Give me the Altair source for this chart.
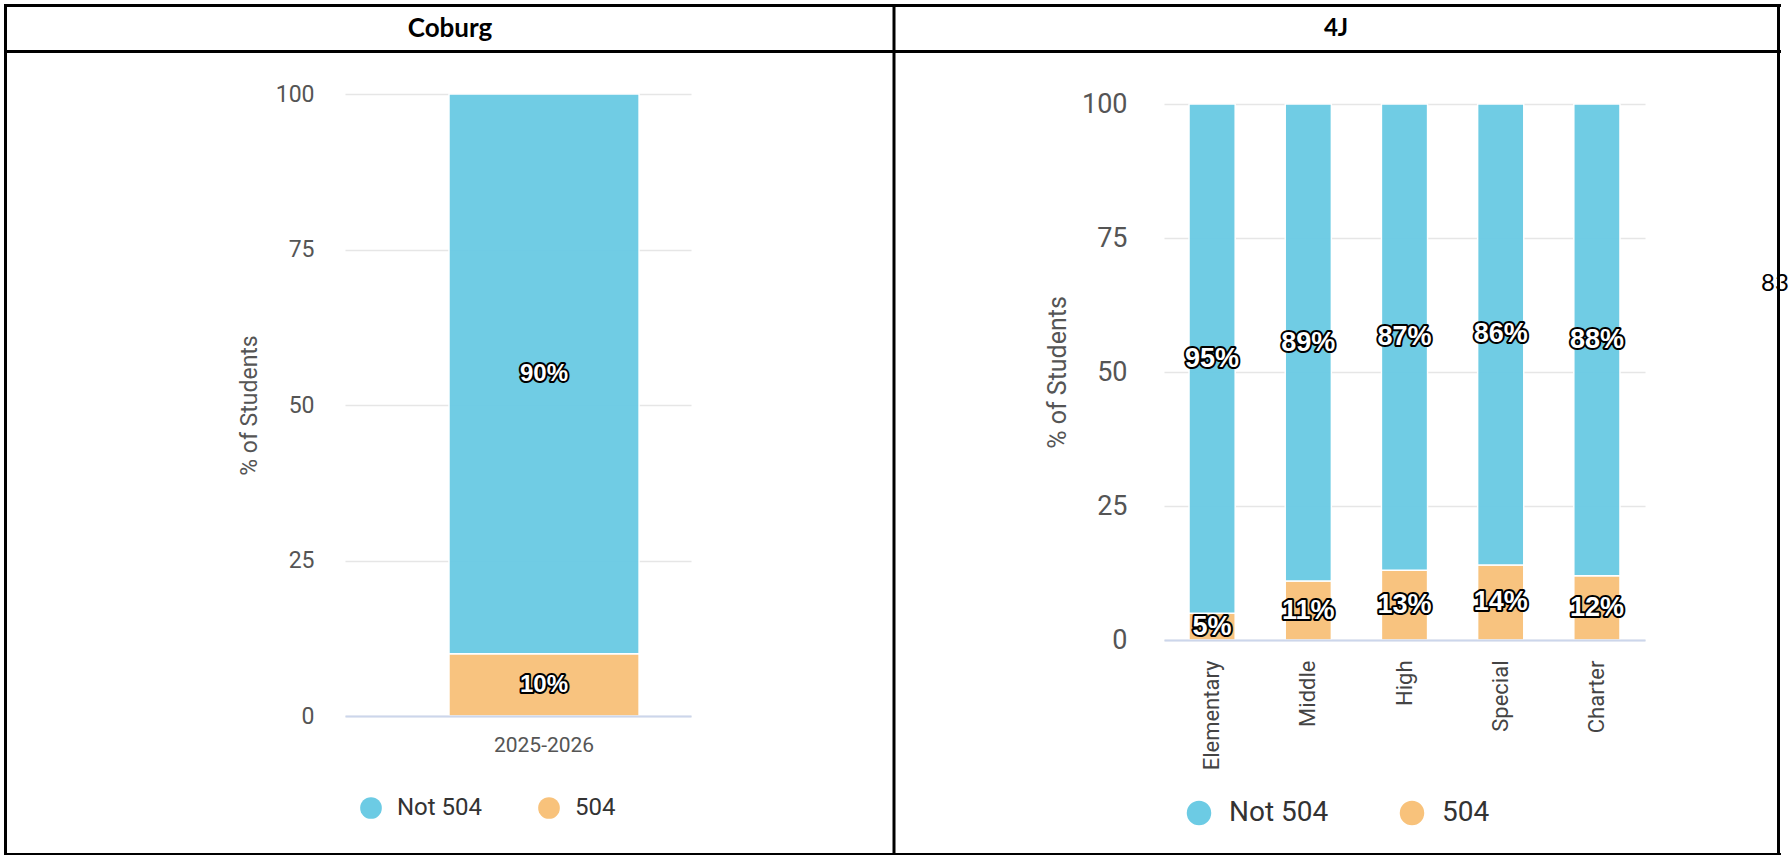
import altair as alt
import pandas as pd

# ---------------- data ----------------
series = ["Not 504", "504"]
colors = ["#6ccbe4", "#f8c27b"]

coburg_years = ["2025-2026"]
coburg_not504 = [90]
coburg_504 = [10]

dist_levels = ["Elementary", "Middle", "High", "Special", "Charter"]
dist_not504 = [95, 89, 87, 86, 88]
dist_504 = [5, 11, 13, 14, 12]

header_left = "Coburg"
header_right = "4J"
page_number = "83"
y_ticks = [0, 25, 50, 75, 100]


def long_df(cats, not504, v504):
    rows = []
    for c, a, b in zip(cats, not504, v504):
        rows.append({"cat": c, "series": "504", "ord": 0, "value": b})
        rows.append({"cat": c, "series": "Not 504", "ord": 1, "value": a})
    return pd.DataFrame(rows)


def panel(df, cats, width, height, yrange, xscale, xaxis, fs_tick, fs_title,
          lab_pad, title_pad, fs_val, legend):
    base = alt.Chart(df).transform_stack(
        stack="value", groupby=["cat"], as_=["v0", "v1"],
        sort=[alt.SortField("ord", order="ascending")]
    ).transform_calculate(mid="(datum.v0 + datum.v1) / 2",
                          lab="datum.value + '%'")
    yscale = alt.Scale(domain=[0, 100], range=yrange) if yrange else alt.Scale(domain=[0, 100])
    yaxis = alt.Axis(values=y_ticks, title="% of Students", grid=True,
                     gridColor="#e6e6e6", gridWidth=1.5, domain=False,
                     ticks=False, labelPadding=lab_pad, labelFont="Roboto",
                     labelFontSize=fs_tick, labelColor="#555555",
                     titleFont="Roboto", titleFontSize=fs_title,
                     titleFontWeight="normal", titleColor="#555555",
                     titlePadding=title_pad)
    bars = base.mark_bar(stroke="white", strokeWidth=1.5, opacity=0.97).encode(
        x=alt.X("cat:N", sort=cats, scale=xscale, axis=xaxis),
        y=alt.Y("v0:Q", scale=yscale, axis=yaxis),
        y2="v1:Q",
        color=alt.Color("series:N", scale=alt.Scale(domain=series, range=colors),
                        legend=legend),
    )
    outline = base.mark_text(font="Liberation Sans", fontWeight="bold",
                             fontSize=fs_val, stroke="black", strokeWidth=4,
                             strokeJoin="round", color="black").encode(
        x=alt.X("cat:N", sort=cats), y=alt.Y("mid:Q"), text="lab:N")
    fill = base.mark_text(font="Liberation Sans", fontWeight="bold",
                          fontSize=fs_val, color="white").encode(
        x=alt.X("cat:N", sort=cats), y=alt.Y("mid:Q"), text="lab:N")
    return [bars, outline, fill]


one = pd.DataFrame({"a": [0]})


def hrule(y, x1, x2, w=3):
    return alt.Chart(one).mark_rule(color="black", strokeWidth=w).encode(
        x=alt.value(x1), x2=alt.value(x2), y=alt.value(y))


def vrule(x, y1, y2, w=3):
    return alt.Chart(one).mark_rule(color="black", strokeWidth=w).encode(
        x=alt.value(x), y=alt.value(y1), y2=alt.value(y2))


def label(txt, x, y, size, weight="normal"):
    return alt.Chart(one).mark_text(text=txt, font="Lato", fontSize=size,
                                    fontWeight=weight, color="black",
                                    baseline="middle", align="center").encode(
        x=alt.value(x), y=alt.value(y))


# left panel origin is canvas (345, 93)
OX, OY = 345, 93
chrome = [
    hrule(4.5 - OY, 4 - OX, 1781 - OX),
    hrule(50.5 - OY, 4 - OX, 1781 - OX),
    hrule(853.5 - OY, 4 - OX, 1781 - OX),
    vrule(5.5 - OX, 4 - OY, 855 - OY),
    vrule(894 - OX, 4 - OY, 855 - OY),
    vrule(1778.5 - OX, 4 - OY, 855 - OY),
    label(header_left, 450 - OX, 28 - OY, 26, "bold"),
    label(header_right, 1336 - OX, 28 - OY, 24, "bold"),
    label(page_number, 1775 - OX, 283 - OY, 24),
]

left_legend = alt.Legend(title=None, orient="none", legendX=14, legendY=702,
                         direction="horizontal", symbolType="circle",
                         symbolSize=470, symbolStrokeWidth=0, symbolOpacity=1,
                         labelFont="Roboto", labelFontSize=24,
                         labelColor="#333333", labelOffset=14,
                         columnPadding=54, padding=0)
left_xaxis = alt.Axis(title=None, labelAngle=0, labelFont="Roboto",
                      labelFontSize=21, labelColor="#555555",
                      domainColor="#ccd6eb", domainWidth=2, ticks=False,
                      labelPadding=18, zindex=1)
left_layers = panel(long_df(coburg_years, coburg_not504, coburg_504),
                    coburg_years, 346, 622, None,
                    alt.Scale(paddingInner=0, paddingOuter=0.41, align=0.667),
                    left_xaxis, 23, 23, 31, 14, 24, left_legend)
left = alt.layer(*(chrome + left_layers)).properties(width=346, height=622)

right_legend = alt.Legend(title=None, orient="none", legendX=21, legendY=705,
                          direction="horizontal", symbolType="circle",
                          symbolSize=600, symbolStrokeWidth=0, symbolOpacity=1,
                          labelFont="Roboto", labelFontSize=28,
                          labelColor="#333333", labelOffset=16,
                          columnPadding=69, padding=0)
right_xaxis = alt.Axis(title=None, labelAngle=270, labelFont="Roboto",
                       labelFontSize=22, labelColor="#444444",
                       domainColor="#ccd6eb", domainWidth=2, ticks=False,
                       labelPadding=20, zindex=1)
right_layers = panel(long_df(dist_levels, dist_not504, dist_504),
                     dist_levels, 481, 546, [546, 10],
                     alt.Scale(paddingInner=0.52, paddingOuter=0.26),
                     right_xaxis, 27, 25, 37, 11, 27, right_legend)
right = alt.layer(*right_layers).properties(width=481, height=546)

chart = alt.HConcatChart(hconcat=[left, right], spacing=473, bounds="flush").resolve_scale(
    color="independent", x="independent", y="independent"
).resolve_legend(color="independent").properties(
    padding={"left": 2, "top": 3, "right": 0, "bottom": 0},
    background="white",
).configure_view(stroke=None)

chart.save("out.html", embed_options={"renderer": "svg", "actions": False})
